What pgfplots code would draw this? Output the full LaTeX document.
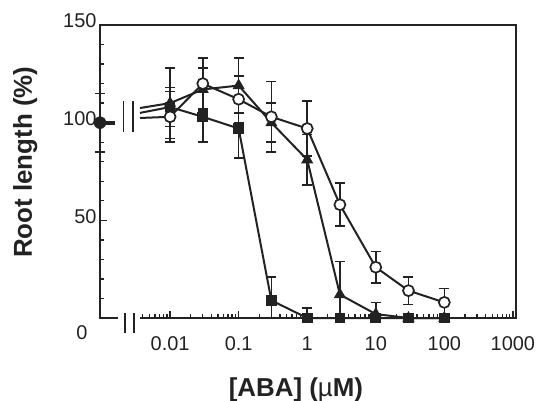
\documentclass[border=0pt]{standalone}
\usepackage{fontspec}
\setmainfont{Liberation Sans}
\usepackage{pgfplots}
\pgfplotsset{compat=1.18}
\definecolor{ink}{HTML}{222222}

\begin{document}
\begin{tikzpicture}
  % root length vs ABA concentration
  \begin{semilogxaxis}[
      scale only axis,
      width=416bp, height=293bp,
      xmin=9.5e-4, xmax=1110,
      ymin=0, ymax=150,
      clip=false,
      axis line style={draw=none},
      tick align=inside,
      xtick pos=bottom, ytick pos=left,
      xtick={0.01,0.1,1,10,100,1000},
      xticklabels={0.01,0.1,1,10,100,1000},
      minor xtick={0.004,0.005,0.006,0.007,0.008,0.009,
        0.02,0.03,0.04,0.05,0.06,0.07,0.08,0.09,
        0.2,0.3,0.4,0.5,0.6,0.7,0.8,0.9,
        2,3,4,5,6,7,8,9,
        20,30,40,50,60,70,80,90,
        200,300,400,500,600,700,800,900},
      ytick={0,50,100,150},
      yticklabels={,50,100,150},
      minor ytick={10,20,30,40,60,70,80,90,110,120,130,140},
      major tick length=7bp,
      minor tick length=4bp,
      every tick/.style={ink, line width=1.3bp},
      /pgf/number format/assume math mode=true,
      tick label style={font=\fontsize{20}{23}\selectfont, text=ink},
      xticklabel style={yshift=-15bp},
      yticklabel style={yshift=4bp},
      xlabel={\bfseries [ABA] (\mdseries µ\bfseries M)},
      ylabel={\bfseries Root length (\%)},
      xlabel style={at={(rel axis cs:0.471,-0.246)}, anchor=center,
        font=\fontsize{26}{30}\selectfont, text=ink},
      ylabel style={at={(rel axis cs:-0.18,0.532)}, anchor=center,
        rotate=0, font=\fontsize{26}{30}\selectfont, text=ink},
    ]
    \coordinate (bl) at (rel axis cs:0,0);
    \coordinate (tr) at (rel axis cs:1,1);

    % frame with the break on the x axis
    \draw[ink, line width=2bp, line join=miter]
      (axis cs:0.00174,0) -- (rel axis cs:0,0) -- (rel axis cs:0,1)
      -- (rel axis cs:1,1) -- (rel axis cs:1,0) -- (axis cs:0.00359,0);
    \draw[ink, line width=1.6bp] (axis cs:0.0022,2.6) -- (axis cs:0.0022,-7.7);
    \draw[ink, line width=1.6bp] (axis cs:0.0030,2.6) -- (axis cs:0.0030,-7.7);
    \draw[ink, line width=1.6bp] (axis cs:0.0021,95) -- (axis cs:0.0021,111);
    \draw[ink, line width=1.6bp] (axis cs:0.0029,95) -- (axis cs:0.0029,111);
    \node[font=\fontsize{20}{23}\selectfont, text=ink, xshift=-18bp, yshift=-15bp]
      at (rel axis cs:0,0) {0};

    % control (no ABA)
    \addplot[ink, line width=4bp, forget plot] coordinates {(9.5e-4,100) (0.00157,100)};
    \addplot[ink, only marks, mark=*, mark size=6bp,
      error bars/.cd, y dir=both, y explicit,
      error bar style={line width=1.4bp},
      error mark options={rotate=90, mark size=5bp, line width=1.4bp}]
      coordinates {(9.5e-4,100) +- (0,15)};

    % stubs leaving the break
    \addplot[ink, line width=2bp] coordinates {(0.00364,107.5) (0.01,110)};
    \addplot[ink, line width=2bp] coordinates {(0.00364,105) (0.01,108)};
    \addplot[ink, line width=2bp] coordinates {(0.00364,102.4) (0.01,103)};

    % filled squares
    \addplot[ink, line width=2bp, mark=square*, mark size=4.3bp,
      error bars/.cd, y dir=both, y explicit,
      error bar style={line width=1.5bp},
      error mark options={rotate=90, mark size=5bp, line width=1.5bp}]
      coordinates {
        (0.01,108) += (0,10) -= (0,10)
        (0.03,103) += (0,13) -= (0,13)
        (0.1,97)   += (0,15) -= (0,15)
        (0.3,9)    += (0,12) -= (0,9)
        (1,0)      += (0,5)  -= (0,0)
        (3,0)      += (0,0)  -= (0,0)
        (10,0)     += (0,0)  -= (0,0)
        (30,0)     += (0,0)  -= (0,0)
        (100,0)    += (0,0)  -= (0,0)
      };

    % filled triangles
    \addplot[ink, line width=2bp, mark=triangle*, mark size=5bp,
      error bars/.cd, y dir=both, y explicit,
      error bar style={line width=1.5bp},
      error mark options={rotate=90, mark size=5bp, line width=1.5bp}]
      coordinates {
        (0.01,110) += (0,18) -= (0,18)
        (0.03,117) += (0,11) -= (0,11)
        (0.1,119)  += (0,14) -= (0,14)
        (0.3,100)  += (0,10) -= (0,10)
        (1,81)     += (0,13) -= (0,13)
        (3,12)     += (0,17) -= (0,12)
        (10,2)     += (0,6)  -= (0,2)
        (30,0)     += (0,0)  -= (0,0)
        (100,0)    += (0,0)  -= (0,0)
      };

    % open circles
    \addplot[ink, line width=2bp, mark=*, mark size=5.5bp,
      mark options={fill=white, line width=1.7bp},
      error bars/.cd, y dir=both, y explicit,
      error bar style={line width=1.5bp},
      error mark options={rotate=90, mark size=5bp, line width=1.5bp}]
      coordinates {
        (0.01,103) += (0,13) -= (0,13)
        (0.03,120) += (0,13) -= (0,13)
        (0.1,112)  += (0,12) -= (0,12)
        (0.3,103)  += (0,18) -= (0,18)
        (1,97)     += (0,14) -= (0,14)
        (3,58)     += (0,11) -= (0,11)
        (10,26)    += (0,8)  -= (0,8)
        (30,14)    += (0,7)  -= (0,7)
        (100,8)    += (0,7)  -= (0,7)
      };
  \end{semilogxaxis}
  \pgfresetboundingbox
  \path ([shift={(-100bp,-83bp)}]bl) rectangle ([shift={(25bp,25bp)}]tr);
\end{tikzpicture}
\end{document}
